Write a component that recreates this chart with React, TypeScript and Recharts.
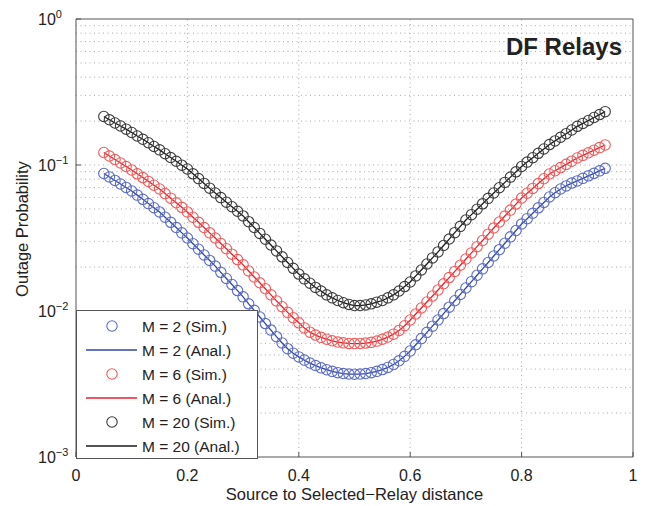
import React from 'react';
import { ComposedChart, Line, XAxis, YAxis, ReferenceLine } from 'recharts';

// relay position, normalised source-to-destination distance
const distance = [
  0.05, 0.06, 0.07, 0.08, 0.09, 0.1, 0.11, 0.12, 0.13, 0.14, 0.15, 0.16, 0.17, 0.18, 0.19, 0.2,
  0.21, 0.22, 0.23, 0.24, 0.25, 0.26, 0.27, 0.28, 0.29, 0.3, 0.31, 0.32, 0.33, 0.34, 0.35, 0.36,
  0.37, 0.38, 0.39, 0.4, 0.41, 0.42, 0.43, 0.44, 0.45, 0.46, 0.47, 0.48, 0.49, 0.5, 0.51, 0.52,
  0.53, 0.54, 0.55, 0.56, 0.57, 0.58, 0.59, 0.6, 0.61, 0.62, 0.63, 0.64, 0.65, 0.66, 0.67, 0.68,
  0.69, 0.7, 0.71, 0.72, 0.73, 0.74, 0.75, 0.76, 0.77, 0.78, 0.79, 0.8, 0.81, 0.82, 0.83, 0.84,
  0.85, 0.86, 0.87, 0.88, 0.89, 0.9, 0.91, 0.92, 0.93, 0.94, 0.95,
];

const outageM2 = [
  0.0875, 0.0828, 0.0784, 0.0741, 0.0702, 0.0664, 0.0622, 0.0582, 0.0544, 0.051, 0.0477, 0.0439,
  0.0405, 0.0373, 0.0343, 0.0316, 0.0289, 0.0265, 0.0242, 0.0222, 0.0203, 0.0184, 0.0167, 0.0152,
  0.0138, 0.0125, 0.0112, 0.0101, 0.0091, 0.0082, 0.0074, 0.00667, 0.00604, 0.00552, 0.00514,
  0.00485, 0.00461, 0.0044, 0.00423, 0.00408, 0.00396, 0.00386, 0.00378, 0.00373, 0.0037,
  0.00369, 0.0037, 0.00373, 0.00378, 0.00386, 0.00397, 0.00411, 0.0043, 0.00456, 0.00489,
  0.00532, 0.00587, 0.00647, 0.00714, 0.00787, 0.00868, 0.0096, 0.01062, 0.01175, 0.01299,
  0.01437, 0.01589, 0.01758, 0.01944, 0.0215, 0.0238, 0.0263, 0.0291, 0.0322, 0.0356, 0.0394,
  0.0429, 0.0467, 0.0509, 0.0554, 0.0604, 0.0646, 0.0685, 0.0719, 0.0752, 0.0778, 0.081, 0.0843,
  0.0877, 0.0912, 0.0949,
];

const outageM6 = [
  0.1218, 0.1152, 0.109, 0.1032, 0.0976, 0.0924, 0.087, 0.082, 0.0772, 0.0727, 0.0685, 0.0637,
  0.0593, 0.0551, 0.0513, 0.0477, 0.0439, 0.0405, 0.0373, 0.0343, 0.0316, 0.029, 0.0267, 0.0245,
  0.0225, 0.0207, 0.0188, 0.0171, 0.0156, 0.0142, 0.0129, 0.01173, 0.0107, 0.00979, 0.009,
  0.0083, 0.00766, 0.00716, 0.00684, 0.0066, 0.00641, 0.00625, 0.00613, 0.00605, 0.006,
  0.00598, 0.00599, 0.00603, 0.0061, 0.00622, 0.0064, 0.00663, 0.00694, 0.00735, 0.00793, 0.00868,
  0.00954, 0.01049, 0.01153, 0.01267, 0.01393, 0.01536, 0.01694, 0.01867, 0.02059, 0.0227,
  0.025, 0.0276, 0.0304, 0.0336, 0.037, 0.0407, 0.0447, 0.0491, 0.054, 0.0594, 0.0641, 0.0691,
  0.0746, 0.0805, 0.0868, 0.0913, 0.096, 0.101, 0.1062, 0.1117, 0.1164, 0.1212, 0.1263, 0.1316,
  0.1371,
];

const outageM20 = [
  0.215, 0.204, 0.194, 0.185, 0.176, 0.167, 0.158, 0.15, 0.142, 0.134, 0.127, 0.1195, 0.1125,
  0.106, 0.0997, 0.0939, 0.087, 0.0807, 0.0748, 0.0694, 0.0643, 0.0598, 0.0556, 0.0518, 0.0482,
  0.0448, 0.0409, 0.0373, 0.034, 0.031, 0.0283, 0.0258, 0.0235, 0.0215, 0.0196, 0.0179, 0.0166,
  0.0155, 0.0145, 0.0137, 0.0129, 0.0123, 0.0118, 0.0114, 0.0111, 0.0109, 0.0109, 0.011, 0.0112,
  0.0115, 0.0118, 0.0123, 0.0129, 0.0137, 0.0147, 0.0158, 0.0174, 0.0191, 0.021, 0.0231, 0.0254,
  0.0281, 0.0311, 0.0344, 0.038, 0.042, 0.0457, 0.0498, 0.0542, 0.0591, 0.0643, 0.0699, 0.076,
  0.0826, 0.0898, 0.0977, 0.1047, 0.1122, 0.1202, 0.1288, 0.138, 0.1462, 0.1548, 0.1639, 0.1737,
  0.184, 0.1927, 0.2019, 0.2115, 0.2215, 0.232,
];

const xTicks = [0, 0.2, 0.4, 0.6, 0.8, 1];
const xGridLines = [0.2, 0.4, 0.6, 0.8];
const yTicks = [0.001, 0.01, 0.1, 1];
const yGridLines = [
  0.002, 0.003, 0.004, 0.005, 0.006, 0.007, 0.008, 0.009, 0.01,
  0.02, 0.03, 0.04, 0.05, 0.06, 0.07, 0.08, 0.09, 0.1,
  0.2, 0.3, 0.4, 0.5, 0.6, 0.7, 0.8, 0.9,
];

const legendItems = [
  { label: 'M = 2 (Sim.)', color: '#5a6cc8', kind: 'marker' },
  { label: 'M = 2 (Anal.)', color: '#2e47a8', kind: 'line' },
  { label: 'M = 6 (Sim.)', color: '#f25a5a', kind: 'marker' },
  { label: 'M = 6 (Anal.)', color: '#e8202a', kind: 'line' },
  { label: 'M = 20 (Sim.)', color: '#3a3a3a', kind: 'marker' },
  { label: 'M = 20 (Anal.)', color: '#1a1a1a', kind: 'line' },
];

const data = distance.map((x, i) => ({
  x,
  m2: outageM2[i],
  m6: outageM6[i],
  m20: outageM20[i],
}));

const FONT = '"Liberation Sans", Arial, Helvetica, sans-serif';
const FRAME = '#555';
const GRID = '#a8a8a8';
const MARKER_R = 5.2;

const YTick = (props: any) => {
  const { y, payload } = props;
  const exp = Math.round(Math.log10(payload.value));
  return (
    <text x={38} y={y + 6} fill="#222" fontSize={16} fontFamily={FONT}>
      10
      <tspan dy={-7} fontSize={11}>{String(exp).replace('-', '−')}</tspan>
    </text>
  );
};

const XTick = (props: any) => {
  const { x, payload } = props;
  return (
    <text x={x} y={481} textAnchor="middle" fill="#222" fontSize={16} fontFamily={FONT}>
      {payload.value}
    </text>
  );
};

const App: React.FC = () => {
  return (
    <div style={{ position: 'absolute', left: 0, top: 0, width: 651, height: 506, background: '#fff' }}>
      <ComposedChart width={651} height={506} data={data} margin={{ top: 18, right: 17, bottom: 0, left: 0 }}>
        <XAxis
          dataKey="x"
          type="number"
          domain={[0, 1]}
          ticks={xTicks}
          interval={0}
          height={49}
          tickSize={-5}
          stroke={FRAME}
          tick={XTick}
          label={{
            content: () => (
              <text x={354.5} y={500} textAnchor="middle" fill="#222" fontSize={16.5} fontFamily={FONT}>
                Source to Selected−Relay distance
              </text>
            ),
          }}
        />
        <XAxis xAxisId="top" orientation="top" type="number" domain={[0, 1]} ticks={xTicks} height={1} tickSize={-5} tick={false} stroke={FRAME} />
        <YAxis
          type="number"
          scale="log"
          domain={[0.001, 1]}
          allowDataOverflow
          ticks={yTicks}
          interval={0}
          width={76}
          tickSize={-5}
          stroke={FRAME}
          tick={YTick}
          label={{
            content: () => (
              <text x={28} y={229} transform="rotate(-90 28 229)" textAnchor="middle" fill="#222" fontSize={16.5} fontFamily={FONT}>
                Outage Probability
              </text>
            ),
          }}
        />
        <YAxis yAxisId="right" orientation="right" type="number" scale="log" domain={[0.001, 1]} allowDataOverflow ticks={yTicks} width={1} tickSize={-5} tick={false} stroke={FRAME} />

        {yGridLines.map((v) => (
          <ReferenceLine key={`h${v}`} y={v} stroke={GRID} strokeDasharray="1 3.5" />
        ))}
        {xGridLines.map((v) => (
          <ReferenceLine key={`v${v}`} x={v} stroke={GRID} strokeDasharray="1 3.5" />
        ))}

        <Line dataKey="m2" stroke="none" dot={{ r: MARKER_R, fill: 'none', stroke: '#5a6cc8', strokeWidth: 1.1 }} isAnimationActive={false} />
        <Line dataKey="m2" stroke="#2e47a8" strokeWidth={1.3} dot={false} isAnimationActive={false} />
        <Line dataKey="m6" stroke="none" dot={{ r: MARKER_R, fill: 'none', stroke: '#f25a5a', strokeWidth: 1.1 }} isAnimationActive={false} />
        <Line dataKey="m6" stroke="#e8202a" strokeWidth={1.3} dot={false} isAnimationActive={false} />
        <Line dataKey="m20" stroke="none" dot={{ r: MARKER_R, fill: 'none', stroke: '#3a3a3a', strokeWidth: 1.1 }} isAnimationActive={false} />
        <Line dataKey="m20" stroke="#1a1a1a" strokeWidth={1.3} dot={false} isAnimationActive={false} />
      </ComposedChart>

      {/* title and legend box drawn over the plot */}
      <svg width={651} height={506} style={{ position: 'absolute', left: 0, top: 0, pointerEvents: 'none' }}>
        <text x={622} y={55} textAnchor="end" fontSize={24} fontWeight="bold" fill="#222" fontFamily={FONT}>
          DF Relays
        </text>
        <rect x={76.5} y={310.5} width={181} height={148} fill="#fff" stroke={FRAME} />
        {legendItems.map((item, i) => {
          const cy = 326 + i * 24;
          return (
            <g key={item.label}>
              {item.kind === 'marker' ? (
                <circle cx={112} cy={cy} r={MARKER_R} fill="none" stroke={item.color} strokeWidth={1.1} />
              ) : (
                <line x1={86} x2={137} y1={cy} y2={cy} stroke={item.color} strokeWidth={1.3} />
              )}
              <text x={142} y={cy + 5.5} fontSize={15.5} fill="#222" fontFamily={FONT}>
                {item.label}
              </text>
            </g>
          );
        })}
      </svg>
    </div>
  );
};

export default App;
